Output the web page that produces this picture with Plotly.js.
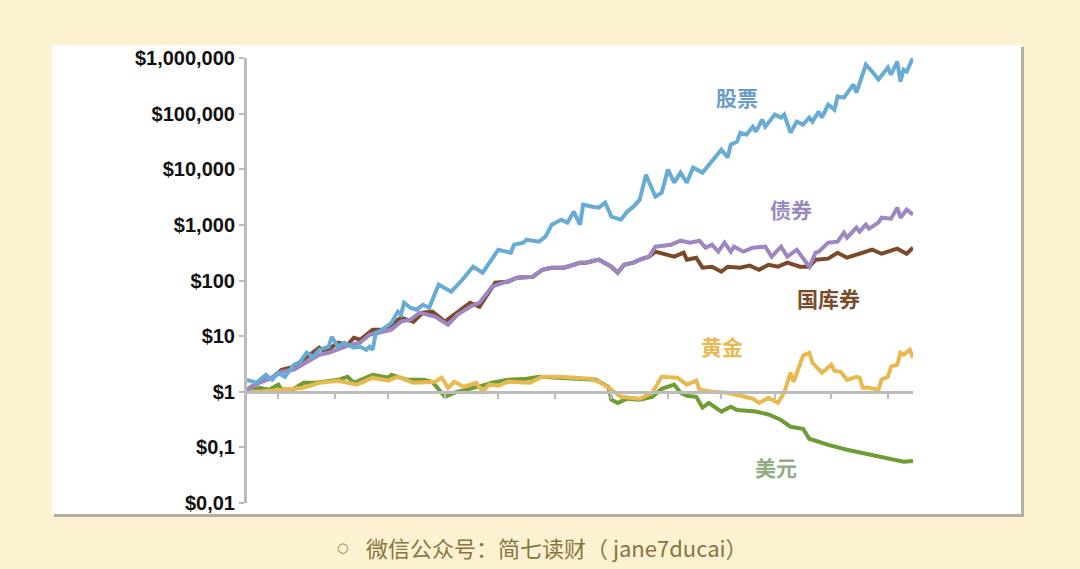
<!DOCTYPE html>
<html>
<head>
<meta charset="utf-8">
<script src="https://cdn.plot.ly/plotly-3.0.1.min.js"></script>
<style>html,body{margin:0;padding:0;background:#fcf2d2;}#chart{width:1080px;height:569px;}</style>
</head>
<body>
<div id="chart"></div>
<script>
// ---- data (growth of $1, log scale) ----
const stockYears = [1802,1805,1808,1810,1812,1814,1817,1819,1821,1823,1825,1828,1829,1831,1833,1835,1836,1838,1840,1841,1842,1843,1845,1848,1850,1851,1852,1854,1856,1858,1860,1863,1867,1870,1874,1877,1882,1886,1887,1890,1891,1895,1897,1899,1902,1904,1906,1908,1909,1912,1914,1916,1918,1921,1923,1925,1927,1929,1932,1934,1936,1938,1940,1942,1944,1947,1950,1953,1955,1956,1958,1959,1961,1963,1964,1966,1967,1970,1972,1973,1975,1977,1979,1981,1982,1984,1985,1987,1989,1990,1992,1995,1996,1999,2001,2003,2006,2007,2009,2010,2011,2012,2014];
const stockValues = [1.64,1.45,2.02,1.64,2.20,1.86,3.06,3.46,5.03,4.26,5.69,6.45,9.75,6.45,7.61,6.45,6.19,6.45,5.69,6.45,5.69,11.5,13.0,17.4,27.5,24.3,39.9,32.4,29.9,36.7,32.4,84.0,62.9,95.1,177,138,358,316,440,479,542,499,614,1009,1242,1096,1727,1009,2307,2125,2039,2508,1404,1242,1727,2125,2838,7990,3214,3794,9840,5740,8690,5740,10690,8690,13700,22540,16180,27700,31350,45500,41900,58400,47450,78000,58400,95950,84700,95950,45500,71800,63400,84700,71800,108700,84700,145200,118000,202300,194100,332600,238800,760700,569500,409000,671500,502500,861000,376500,618000,569500,1016000];

const bondYears = [1802,1806,1810,1813,1817,1821,1825,1828,1832,1835,1838,1841,1844,1848,1851,1854,1857,1860,1862,1866,1869,1873,1876,1880,1885,1888,1893,1896,1899,1903,1906,1908,1910,1914,1918,1920,1922,1925,1927,1930,1932,1937,1940,1943,1946,1948,1950,1952,1954,1956,1957,1960,1963,1965,1967,1969,1972,1974,1977,1981,1983,1984,1987,1990,1992,1993,1996,1997,1999,2000,2003,2004,2007,2009,2010,2012,2014];
const bondValues = [1.09,1.45,1.79,2.29,2.49,3.46,4.63,5.03,6.19,7.00,7.61,10.6,11.5,13.0,18.2,19.7,26.4,24.3,22.3,16.0,24.3,33.8,39.9,77.3,95.1,112,117,156,170,170,192,209,209,237,177,138,192,209,237,268,405,440,520,479,520,389,440,330,479,330,405,330,389,405,405,268,405,268,358,177,316,330,479,499,724,589,891,755,1009,855,1096,1346,1294,2039,1346,1877,1525];

const billYears = [1802,1806,1810,1813,1817,1821,1825,1827,1831,1834,1836,1838,1842,1845,1848,1851,1855,1858,1861,1865,1868,1873,1876,1881,1885,1888,1893,1896,1899,1903,1906,1908,1910,1914,1918,1920,1922,1925,1927,1930,1932,1936,1938,1941,1942,1945,1947,1950,1953,1955,1959,1962,1965,1968,1971,1974,1978,1981,1983,1987,1990,1993,1996,2001,2004,2009,2012,2014];
const billValues = [1.09,1.51,1.79,2.49,2.82,4.26,6.19,5.24,7.61,7.00,9.36,8.61,13.0,13.0,16.0,21.4,18.2,26.4,27.5,18.2,24.3,39.9,33.8,91.3,95.1,112,117,156,170,170,192,209,209,237,177,138,192,209,237,268,330,291,268,316,237,257,170,177,144,177,170,185,156,192,177,209,177,177,237,247,316,257,291,358,303,373,303,389];

const goldYears = [1802,1806,1813,1820,1825,1831,1837,1842,1847,1850,1855,1859,1862,1864,1866,1868,1871,1875,1877,1879,1882,1885,1888,1892,1896,1902,1911,1914,1918,1921,1927,1931,1934,1939,1942,1945,1946,1950,1955,1959,1963,1965,1968,1971,1973,1975,1976,1979,1981,1982,1985,1988,1989,1991,1993,1996,1997,1998,2000,2003,2004,2006,2007,2009,2010,2011,2013,2014];
const goldValues = [1.00,1.00,1.09,1.18,1.45,1.58,1.34,1.79,1.58,1.86,1.45,1.51,1.51,1.79,1.18,1.51,1.23,1.45,1.00,1.34,1.28,1.51,1.51,1.45,1.86,1.86,1.71,1.51,1.09,0.81,0.75,0.96,1.86,1.79,1.34,1.58,1.09,1.00,0.96,0.85,0.75,0.63,0.78,0.63,0.96,2.20,1.51,4.44,5.03,3.32,2.20,3.06,2.39,2.29,1.64,1.86,1.79,1.18,1.18,1.09,1.64,1.86,2.82,3.06,5.03,4.63,5.69,4.09];

const dollarYears = [1802,1806,1809,1812,1813,1817,1820,1824,1831,1834,1836,1842,1847,1848,1853,1858,1861,1863,1865,1868,1872,1875,1878,1880,1885,1891,1895,1913,1917,1918,1920,1923,1927,1931,1934,1938,1940,1942,1945,1947,1949,1953,1956,1958,1964,1968,1972,1975,1979,1981,1987,1993,1999,2006,2011,2014];
const dollarValues = [1.00,1.18,1.09,1.34,1.09,1.13,1.45,1.45,1.64,1.86,1.45,2.02,1.79,2.02,1.64,1.64,1.51,1.09,0.81,0.96,1.09,1.18,1.34,1.45,1.64,1.71,1.86,1.64,1.23,0.72,0.63,0.75,0.72,0.81,1.13,1.34,0.96,0.85,0.81,0.52,0.63,0.44,0.54,0.47,0.44,0.39,0.31,0.235,0.216,0.143,0.111,0.0905,0.0767,0.065,0.055,0.057];

const yTickVals = [0.01,0.1,1,10,100,1000,10000,100000,1000000];
const yTickText = ["$0,01","$0,1","$1","$10","$100","$1,000","$10,000","$100,000","$1,000,000"];
const xTickVals = [1812,1830,1847,1865,1882,1900,1918,1936,1953,1970,1988,2006];

const seriesNames = ["美元","黄金","国库券","债券","股票"];
const lineColors = ["#6e9d34","#e9b951","#7b4a2a","#9d86c2","#68acd6"];
const labelColors = ["#93ab86","#ebb954","#7b4b2b","#9a88bf","#6a9ccb"];

const xs = [dollarYears, goldYears, billYears, bondYears, stockYears];
const ys = [dollarValues, goldValues, billValues, bondValues, stockValues];

const traces = seriesNames.map((n,i)=>({
  type:'scatter', mode:'lines', name:n, x:xs[i], y:ys[i],
  line:{color:lineColors[i], width:4}, hoverinfo:'skip'
}));

const labelPos = [[0.7943,0.0809],[0.7132,0.3528],[0.8724,0.4607],[0.8168,0.6607],[0.7357,0.9124]];
const annotations = seriesNames.map((n,i)=>({
  xref:'paper', yref:'paper', x:labelPos[i][0], y:labelPos[i][1],
  text:n, showarrow:false, xanchor:'center', yanchor:'middle',
  font:{family:'Noto Sans CJK SC', size:21, color:labelColors[i], weight:'bold'}
}));
annotations.push({
  xref:'paper', yref:'paper', x:(342-247)/666, y:(503-547)/445,
  xanchor:'center', yanchor:'middle', showarrow:false,
  text:'○',
  font:{family:'DejaVu Sans', size:13, color:'#85763c'}
});
annotations.push({
  xref:'paper', yref:'paper', x:(364-247)/666, y:(503-547)/445,
  xanchor:'left', yanchor:'middle', showarrow:false,
  text:'微信公众号：简七读财（ jane7ducai）',
  font:{family:'Noto Sans CJK SC', size:22, color:'#85763c'}
});

const layout = {
  width:1080, height:569,
  margin:{l:247, r:167, t:58, b:66, pad:0},
  paper_bgcolor:'#fcf2d2', plot_bgcolor:'rgba(0,0,0,0)',
  showlegend:false,
  xaxis:{
    type:'linear', range:[1802,2014], anchor:'free', position:0.25,
    showline:true, linecolor:'#bcbcbc', linewidth:3,
    ticks:'outside', tickvals:xTickVals, ticklen:5, tickwidth:2, tickcolor:'#bcbcbc',
    showticklabels:false, showgrid:false, zeroline:false, fixedrange:true
  },
  yaxis:{
    type:'log', range:[-2,6],
    tickvals:yTickVals, ticktext:yTickText,
    showline:true, linecolor:'#bcbcbc', linewidth:3,
    ticks:'outside', ticklen:5, tickwidth:2, tickcolor:'#bcbcbc',
    showgrid:false, zeroline:false, fixedrange:true,
    tickfont:{family:'Liberation Sans', size:20, color:'#111111', weight:'bold'}
  },
  shapes:[
    {type:'rect', xref:'paper', yref:'paper', layer:'below',
     x0:(54-247)/666, x1:(1024-247)/666, y0:(503-517)/445, y1:(503-47)/445,
     fillcolor:'#b3ae9f', line:{width:0}},
    {type:'rect', xref:'paper', yref:'paper', layer:'below',
     x0:(52-247)/666, x1:(1021-247)/666, y0:(503-514)/445, y1:(503-45)/445,
     fillcolor:'#ffffff', line:{width:0}}
  ],
  annotations:annotations
};

Plotly.newPlot('chart', traces, layout, {displayModeBar:false, staticPlot:true});
</script>
</body>
</html>
